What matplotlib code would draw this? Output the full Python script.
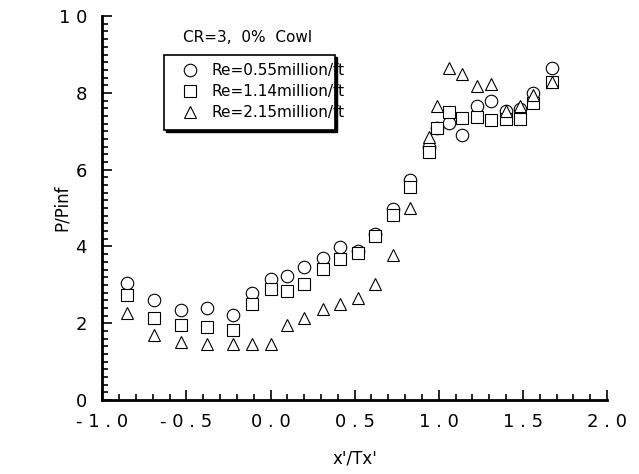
import numpy as np
import matplotlib
matplotlib.use('Agg')
import matplotlib.pyplot as plt
from matplotlib.patches import Rectangle
from matplotlib.ticker import MultipleLocator, FuncFormatter

# x'/Tx' stations
x = [-0.85, -0.69, -0.53, -0.38, -0.22, -0.11, 0.0, 0.10, 0.20, 0.31, 0.41, 0.52, 0.62,
     0.73, 0.83, 0.94, 0.99, 1.06, 1.14, 1.23, 1.31, 1.40, 1.48, 1.56, 1.67]

# P/Pinf for each Reynolds number
p_055 = [3.04, 2.60, 2.34, 2.41, 2.21, 2.80, 3.15, 3.23, 3.46, 3.70, 3.98, 3.89, 4.32,
         4.97, 5.73, 6.60, 7.09, 7.21, 6.90, 7.65, 7.80, 7.53, 7.59, 8.00, 8.64]
p_114 = [2.73, 2.14, 1.95, 1.91, 1.82, 2.50, 2.90, 2.85, 3.02, 3.42, 3.68, 3.83, 4.26,
         4.82, 5.55, 6.46, 7.08, 7.49, 7.34, 7.38, 7.29, 7.32, 7.33, 7.73, 8.29]
p_215 = [2.27, 1.69, 1.52, 1.46, 1.45, 1.45, 1.45, 1.95, 2.13, 2.37, 2.49, 2.67, 3.02,
         3.78, 4.99, 6.85, 7.65, 8.64, 8.49, 8.17, 8.22, 7.53, 7.66, 7.95, 8.29]

labels = ['Re=0.55million/ft', 'Re=1.14million/ft', 'Re=2.15million/ft']
title_ = 'CR=3,  0%  Cowl'

fig = plt.figure(figsize=(6.39, 4.74), dpi=100)
ax = fig.add_axes([0.160, 0.156, 0.790, 0.810])

ms = dict(mfc='white', mec='k', mew=0.8, ls='none')
ax.plot(x, p_055, 'o', ms=9, label=labels[0], **ms)
ax.plot(x, p_114, 's', ms=8, label=labels[1], **ms)
ax.plot(x, p_215, '^', ms=9, label=labels[2], **ms)

ax.set_xlim(-1.0, 2.0)
ax.set_ylim(0, 10)
ax.xaxis.set_major_locator(MultipleLocator(0.5))
ax.xaxis.set_minor_locator(MultipleLocator(0.1))
ax.yaxis.set_major_locator(MultipleLocator(2))
ax.yaxis.set_minor_locator(MultipleLocator(0.2))

# spaced-out digits like the original
ax.xaxis.set_major_formatter(FuncFormatter(lambda v, p: ' '.join('%.1f' % v)))
ax.yaxis.set_major_formatter(FuncFormatter(lambda v, p: ' '.join('%d' % v)))

for s in ['top', 'right']:
    ax.spines[s].set_visible(False)
for s in ['left', 'bottom']:
    ax.spines[s].set_linewidth(2)

ax.tick_params(which='both', direction='in', width=1.2)
ax.tick_params(which='major', length=7)
ax.tick_params(which='minor', length=4)
ax.tick_params(axis='x', which='major', labelsize=13, pad=9)
ax.tick_params(axis='y', which='major', labelsize=13, pad=11)

ax.set_xlabel("x'/Tx'", fontsize=12)
ax.set_ylabel('P/Pinf', fontsize=12)
ax.xaxis.set_label_coords(0.5, -0.128)
ax.yaxis.set_label_coords(-0.062, 0.5)

ax.text(0.288, 0.945, title_, transform=ax.transAxes, ha='center', va='center', fontsize=11)

# legend box with drop shadow
bx, by, bw, bh = 0.1225, 0.703, 0.3385, 0.197
ax.add_patch(Rectangle((bx + 0.0045, by - 0.006), bw, bh, transform=ax.transAxes,
                       facecolor='k', edgecolor='k', zorder=5, clip_on=False))
ax.add_patch(Rectangle((bx, by), bw, bh, transform=ax.transAxes,
                       facecolor='white', edgecolor='none', zorder=6, clip_on=False))
leg = ax.legend(loc='upper left', bbox_to_anchor=(0.158, 0.878), frameon=False,
                fontsize=11, handlelength=1.0, handletextpad=0.9, labelspacing=0.4,
                borderpad=0, borderaxespad=0)
leg.set_zorder(7)
ax.add_patch(Rectangle((bx, by), bw, bh, transform=ax.transAxes,
                       facecolor='none', edgecolor='k', lw=1.2, zorder=8, clip_on=False))

plt.savefig('out.png', dpi=100)
